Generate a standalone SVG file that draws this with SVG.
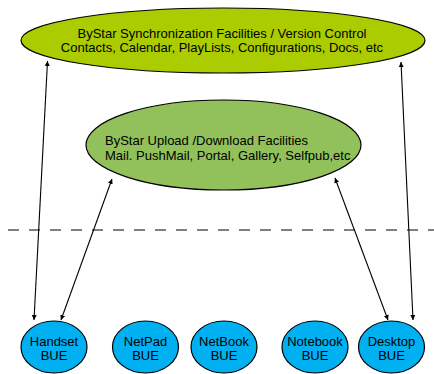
<svg xmlns="http://www.w3.org/2000/svg" width="434" height="374" viewBox="0 0 434 374">
<defs>
<marker id="ah" viewBox="0 0 10 10" refX="10" refY="5" markerWidth="5" markerHeight="8" orient="auto-start-reverse" markerUnits="userSpaceOnUse">
<path d="M0,0 L10,5 L0,10 z" fill="#000"/>
</marker>
</defs>
<style>
text{font-family:"Liberation Sans",Arial,sans-serif;font-size:13px;fill:#000}
.c{text-anchor:middle}
.el{stroke:#000;stroke-width:1.2}
.bue{fill:#00b0f0}
.conn line{stroke:#000;stroke-width:1.1;marker-start:url(#ah);marker-end:url(#ah)}
</style>
<rect width="434" height="374" fill="#fff"/>
<line x1="8" y1="230" x2="434" y2="230" stroke="#555" stroke-width="1.5" stroke-dasharray="11,10"/>
<g id="sync">
<ellipse class="el" cx="223" cy="40.5" rx="202" ry="32.5" fill="#aacc00"/>
<text class="c" x="222" y="37.5">ByStar Synchronization Facilities / Version Control</text>
<text class="c" x="222" y="52">Contacts, Calendar, PlayLists, Configurations, Docs, etc</text>
</g>
<g id="upload">
<ellipse class="el" cx="223.5" cy="145" rx="137.5" ry="45" fill="#92c05a"/>
<text x="105" y="145">ByStar Upload /Download Facilities</text>
<text x="105" y="159.5">Mail. PushMail, Portal, Gallery, Selfpub,etc</text>
</g>
<g id="handset">
<ellipse class="el bue" cx="54" cy="347" rx="33" ry="26"/>
<text class="c" x="54" y="345.5">Handset</text>
<text class="c" x="54" y="360">BUE</text>
</g>
<g id="netpad">
<ellipse class="el bue" cx="145.5" cy="347" rx="33" ry="26"/>
<text class="c" x="145.5" y="345.5">NetPad</text>
<text class="c" x="145.5" y="360">BUE</text>
</g>
<g id="netbook">
<ellipse class="el bue" cx="224" cy="347" rx="33" ry="26"/>
<text class="c" x="224" y="345.5">NetBook</text>
<text class="c" x="224" y="360">BUE</text>
</g>
<g id="notebook">
<ellipse class="el bue" cx="315" cy="347" rx="33" ry="26"/>
<text class="c" x="315" y="345.5">Notebook</text>
<text class="c" x="315" y="360">BUE</text>
</g>
<g id="desktop">
<ellipse class="el bue" cx="391.5" cy="347" rx="33" ry="26"/>
<text class="c" x="391.5" y="345.5">Desktop</text>
<text class="c" x="391.5" y="360">BUE</text>
</g>
<g class="conn" id="connectors">
<line x1="47.5" y1="61" x2="34" y2="320"/>
<line x1="112" y1="179" x2="61" y2="320"/>
<line x1="335" y1="178" x2="388" y2="320"/>
<line x1="401" y1="62" x2="413" y2="320"/>
</g>
</svg>
